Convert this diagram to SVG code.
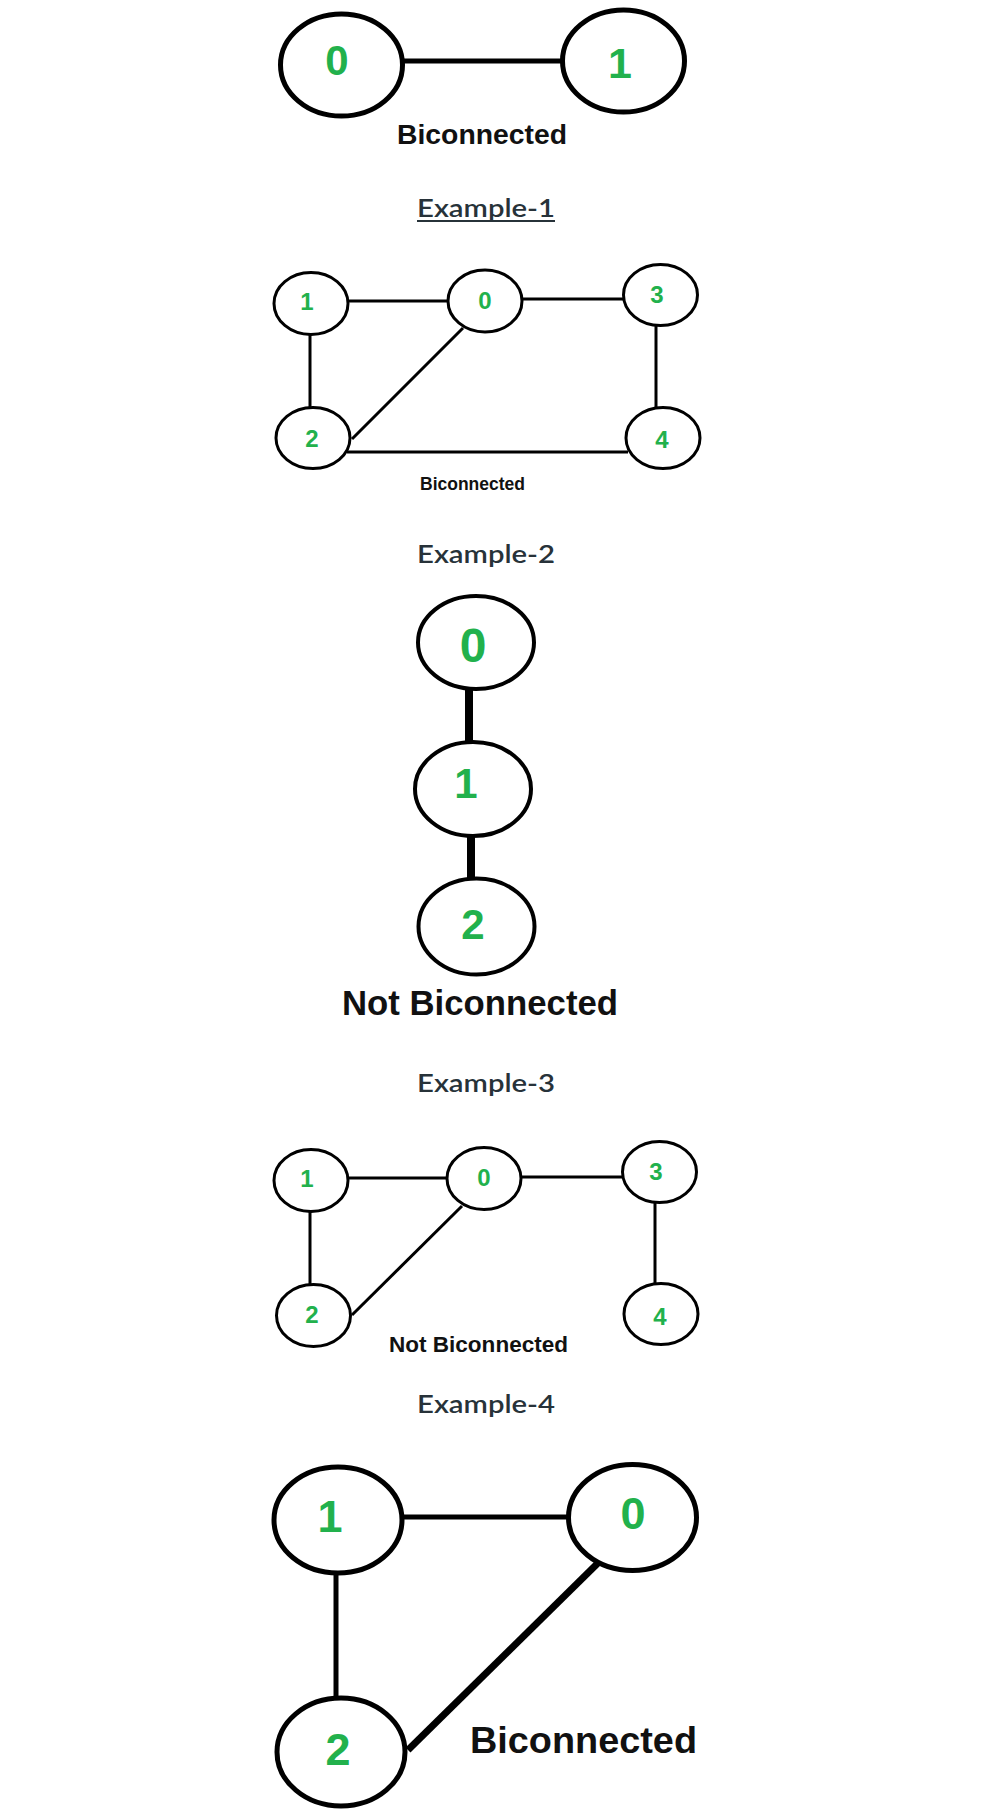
<svg xmlns="http://www.w3.org/2000/svg" width="1001" height="1811" viewBox="0 0 1001 1811">
<style>
.nd{fill:#fff;stroke:#000}
.num{font-family:"Liberation Sans",Arial,sans-serif;font-weight:bold;fill:#22b14c;text-anchor:middle}
.cap{font-family:"Liberation Sans",Arial,sans-serif;font-weight:bold;fill:#111}
.ex{font-family:Lato,"Noto Sans","Open Sans",sans-serif;font-weight:600;fill:#273239;font-size:24px}
.e{stroke:#000;fill:none}
</style>
<rect width="1001" height="1811" fill="#fff"/>

<!-- Example 1 -->
<g id="ex1-edges" class="e" stroke-width="5">
<line x1="403" y1="61" x2="562" y2="61"/>
</g>
<g id="ex1-n0"><ellipse class="nd" cx="341.5" cy="65" rx="61" ry="51" stroke-width="5"/><text class="num" x="337" y="75" font-size="42">0</text></g>
<g id="ex1-n1"><ellipse class="nd" cx="623.5" cy="61" rx="61" ry="51" stroke-width="5"/><text class="num" x="620" y="78" font-size="43">1</text></g>
<text class="cap" x="397" y="144" font-size="28" textLength="170" lengthAdjust="spacingAndGlyphs">Biconnected</text>
<text class="ex" x="417" y="217" textLength="138" lengthAdjust="spacingAndGlyphs">Example-1</text>
<rect x="417" y="220" width="138" height="2" fill="#273239"/>

<!-- Example 2 -->
<g id="ex2-edges" class="e" stroke-width="3">
<line x1="349" y1="301" x2="447" y2="301"/>
<line x1="523" y1="299" x2="623" y2="299"/>
<line x1="310" y1="335" x2="310" y2="407"/>
<line x1="656" y1="326" x2="656" y2="407"/>
<line x1="463" y1="328" x2="352" y2="439"/>
<line x1="347" y1="452" x2="628" y2="452"/>
</g>
<g id="ex2-n1"><ellipse class="nd" cx="311" cy="303.5" rx="37" ry="31" stroke-width="3"/><text class="num" x="307" y="310" font-size="24">1</text></g>
<g id="ex2-n0"><ellipse class="nd" cx="485" cy="301" rx="37" ry="31" stroke-width="3"/><text class="num" x="485" y="309" font-size="24">0</text></g>
<g id="ex2-n3"><ellipse class="nd" cx="660.5" cy="295" rx="37" ry="30.5" stroke-width="3"/><text class="num" x="657" y="303" font-size="24">3</text></g>
<g id="ex2-n2"><ellipse class="nd" cx="313" cy="438" rx="37" ry="30.5" stroke-width="3"/><text class="num" x="312" y="447" font-size="24">2</text></g>
<g id="ex2-n4"><ellipse class="nd" cx="663" cy="438" rx="37" ry="30.5" stroke-width="3"/><text class="num" x="662" y="448" font-size="24">4</text></g>
<text class="cap" x="420" y="490" font-size="17.5" fill="#222" textLength="105" lengthAdjust="spacingAndGlyphs">Biconnected</text>
<text class="ex" x="417" y="563" textLength="138" lengthAdjust="spacingAndGlyphs">Example-2</text>

<!-- Example 3 -->
<g id="ex3-edges" class="e" stroke-width="8">
<line x1="469" y1="688" x2="469" y2="743"/>
<line x1="471" y1="835" x2="471" y2="879"/>
</g>
<g id="ex3-n0"><ellipse class="nd" cx="476" cy="642.5" rx="58" ry="46.5" stroke-width="4"/><text class="num" x="473" y="662" font-size="48">0</text></g>
<g id="ex3-n1"><ellipse class="nd" cx="473" cy="789" rx="58" ry="47" stroke-width="4"/><text class="num" x="466" y="798" font-size="42">1</text></g>
<g id="ex3-n2"><ellipse class="nd" cx="476.5" cy="926.5" rx="58" ry="48" stroke-width="4"/><text class="num" x="473" y="939" font-size="42">2</text></g>
<text class="cap" x="342" y="1015" font-size="35" textLength="276" lengthAdjust="spacingAndGlyphs">Not Biconnected</text>
<text class="ex" x="417" y="1092" textLength="138" lengthAdjust="spacingAndGlyphs">Example-3</text>

<!-- Example 4 -->
<g id="ex4-edges" class="e" stroke-width="3">
<line x1="349" y1="1178" x2="446" y2="1178"/>
<line x1="522" y1="1177" x2="622" y2="1177"/>
<line x1="310" y1="1212" x2="310" y2="1284"/>
<line x1="655" y1="1203" x2="655" y2="1283"/>
<line x1="462" y1="1206" x2="352" y2="1315"/>
</g>
<g id="ex4-n1"><ellipse class="nd" cx="311" cy="1180.5" rx="37" ry="31" stroke-width="3"/><text class="num" x="307" y="1187" font-size="24">1</text></g>
<g id="ex4-n0"><ellipse class="nd" cx="484" cy="1178.5" rx="37" ry="31" stroke-width="3"/><text class="num" x="484" y="1186" font-size="24">0</text></g>
<g id="ex4-n3"><ellipse class="nd" cx="659.5" cy="1172" rx="37" ry="30.5" stroke-width="3"/><text class="num" x="656" y="1180" font-size="24">3</text></g>
<g id="ex4-n2"><ellipse class="nd" cx="313.5" cy="1315.5" rx="37" ry="31" stroke-width="3"/><text class="num" x="312" y="1323" font-size="24">2</text></g>
<g id="ex4-n4"><ellipse class="nd" cx="661" cy="1314" rx="37" ry="30.5" stroke-width="3"/><text class="num" x="660" y="1325" font-size="24">4</text></g>
<text class="cap" x="389" y="1352" font-size="22.5" fill="#222" textLength="179" lengthAdjust="spacingAndGlyphs">Not Biconnected</text>
<text class="ex" x="417" y="1413" textLength="138" lengthAdjust="spacingAndGlyphs">Example-4</text>

<!-- Example 5 -->
<g id="ex5-edges" class="e">
<line x1="403" y1="1517" x2="567" y2="1517" stroke-width="5"/>
<line x1="336" y1="1574" x2="336" y2="1697" stroke-width="5"/>
<line x1="598" y1="1563" x2="408" y2="1750" stroke-width="7"/>
</g>
<g id="ex5-n1"><ellipse class="nd" cx="338" cy="1520" rx="64" ry="53" stroke-width="5"/><text class="num" x="330" y="1532" font-size="45">1</text></g>
<g id="ex5-n0"><ellipse class="nd" cx="632.5" cy="1517.5" rx="64" ry="53" stroke-width="5"/><text class="num" x="633" y="1529" font-size="45">0</text></g>
<g id="ex5-n2"><ellipse class="nd" cx="341" cy="1752" rx="64" ry="54" stroke-width="5"/><text class="num" x="338" y="1765" font-size="45">2</text></g>
<text class="cap" x="470" y="1753" font-size="37.8" textLength="227" lengthAdjust="spacingAndGlyphs">Biconnected</text>
</svg>
